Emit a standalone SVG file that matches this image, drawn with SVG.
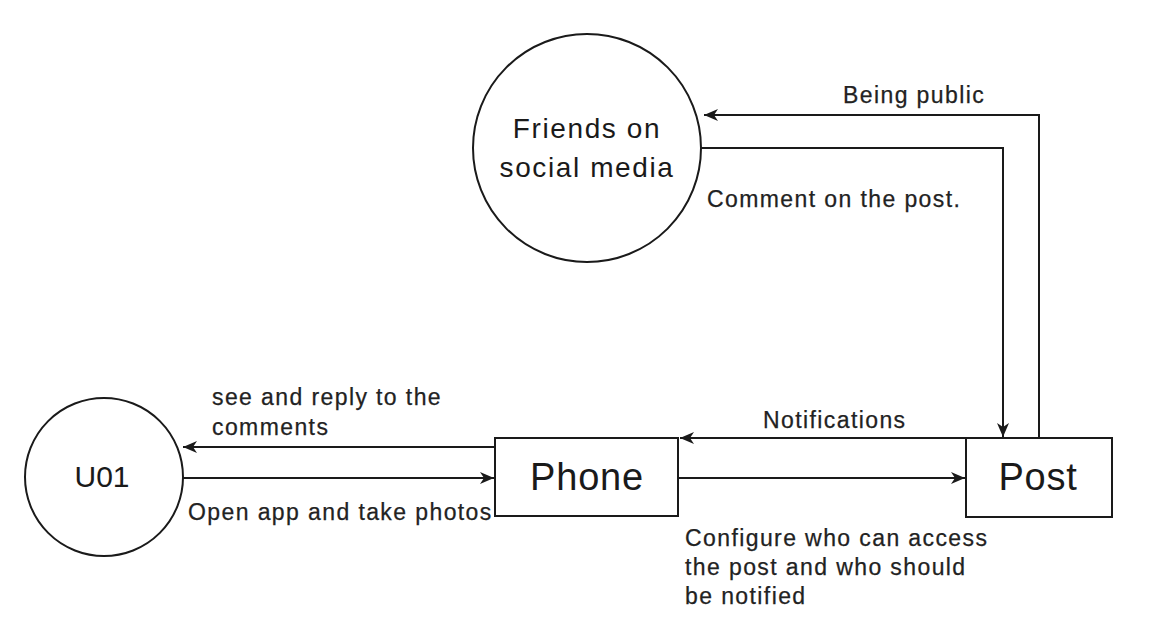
<svg xmlns="http://www.w3.org/2000/svg" width="1164" height="642" viewBox="0 0 1164 642">
  <style>
    .shape { fill: #ffffff; stroke: #1a1a1a; stroke-width: 2; }
    .edge { fill: none; stroke: #1a1a1a; stroke-width: 2; }
    .lbl { font-family: "Liberation Sans", Arial, Helvetica, sans-serif; font-size: 23px; letter-spacing: 1.4px; fill: #222222; stroke: #222222; stroke-width: 0.25px; }
    .node-text { font-family: "Liberation Sans", Arial, Helvetica, sans-serif; fill: #1a1a1a; text-anchor: middle; }
  </style>
  <defs>
    <marker id="arrow" markerUnits="userSpaceOnUse" markerWidth="16" markerHeight="14" refX="15" refY="7" orient="auto">
      <path d="M1,1 L15,7 L1,13 L5,7 Z" fill="#1a1a1a"/>
    </marker>
  </defs>
  <rect width="1164" height="642" fill="#ffffff"/>

  <g id="connectors">
    <path id="e-being-public" class="edge" d="M1039,438 V115 H704" marker-end="url(#arrow)"/>
    <path id="e-comment" class="edge" d="M701,148 H1003 V437" marker-end="url(#arrow)"/>
    <path id="e-notifications" class="edge" d="M966,438 H680" marker-end="url(#arrow)"/>
    <path id="e-configure" class="edge" d="M678,478 H965" marker-end="url(#arrow)"/>
    <path id="e-see-reply" class="edge" d="M495,447 H183" marker-end="url(#arrow)"/>
    <path id="e-open-app" class="edge" d="M183,478 H494" marker-end="url(#arrow)"/>

    <text class="lbl" x="843" y="103">Being public</text>
    <text class="lbl" x="707" y="207">Comment on the post.</text>
    <text class="lbl" x="763" y="428">Notifications</text>
    <text class="lbl" x="212" y="405">see and reply to the</text>
    <text class="lbl" x="212" y="435">comments</text>
    <text class="lbl" x="188" y="520">Open app and take photos</text>
    <text class="lbl" x="685" y="546">Configure who can access</text>
    <text class="lbl" x="685" y="575">the post and who should</text>
    <text class="lbl" x="685" y="604">be notified</text>
  </g>

  <g id="node-friends">
    <circle class="shape" cx="587" cy="148" r="114"/>
    <text class="node-text" x="587" y="138" font-size="28" letter-spacing="1.6">Friends on</text>
    <text class="node-text" x="587" y="177" font-size="28" letter-spacing="1.6">social media</text>
  </g>

  <g id="node-u01">
    <circle class="shape" cx="104" cy="477" r="79"/>
    <text class="node-text" x="102" y="487" font-size="30">U01</text>
  </g>

  <g id="node-phone">
    <rect class="shape" x="495" y="438" width="183" height="78"/>
    <text class="node-text" x="587" y="490" font-size="38" letter-spacing="0.8">Phone</text>
  </g>

  <g id="node-post">
    <rect class="shape" x="966" y="438" width="146" height="79"/>
    <text class="node-text" x="1038" y="490" font-size="38" letter-spacing="0.8">Post</text>
  </g>
</svg>
